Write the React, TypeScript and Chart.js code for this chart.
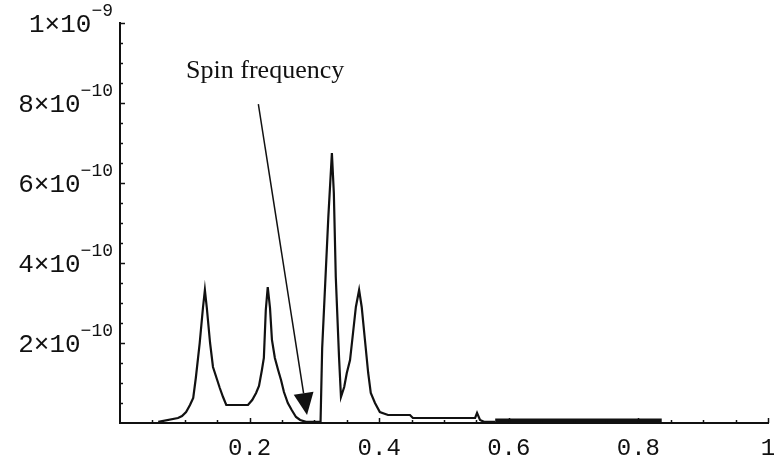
import { useEffect, useRef } from 'react';
import { Chart, registerables } from 'chart.js';

Chart.register(...registerables);

// Frequency (x) and power (y, in units of 1e-10)
const FREQ = [
  0.059, 0.0895, 0.0957, 0.102, 0.108, 0.113, 0.117, 0.123, 0.128, 0.131,
  0.134, 0.139, 0.1435, 0.150, 0.154, 0.159, 0.164, 0.1975, 0.204, 0.210,
  0.2145, 0.219, 0.222, 0.225, 0.228, 0.2315, 0.2345, 0.239, 0.244, 0.2485,
  0.253, 0.259, 0.265, 0.2716, 0.278, 0.287, 0.3056, 0.3095, 0.312, 0.3215,
  0.327, 0.330, 0.333, 0.338, 0.341, 0.346, 0.350, 0.355, 0.3596, 0.364,
  0.369, 0.373, 0.378, 0.383, 0.387, 0.3935, 0.401, 0.4136, 0.4475, 0.452,
  0.548, 0.551, 0.5556, 0.5617, 0.579,
];
const POWER = [
  0.03, 0.125, 0.175, 0.275, 0.45, 0.625, 1.125, 2.0, 2.875, 3.325,
  2.875, 2.0, 1.4, 1.075, 0.875, 0.65, 0.45, 0.45, 0.575, 0.75,
  0.925, 1.325, 1.625, 2.825, 3.4, 2.875, 2.075, 1.625, 1.325, 1.075,
  0.775, 0.5, 0.325, 0.15, 0.075, 0.03, 0.03, 0.03, 1.875, 5.15,
  6.75, 5.75, 3.65, 1.65, 0.65, 0.9, 1.25, 1.575, 2.25, 2.9,
  3.325, 2.9, 2.075, 1.25, 0.75, 0.5, 0.275, 0.2, 0.2, 0.125,
  0.125, 0.25, 0.075, 0.03, 0.03,
];
// Low-level noise band
const NOISE_FREQ = [0.579, 0.836];
const NOISE_POWER = [0.05, 0.05];

const UNIT = 1e-10;
const X_TICK_VALUES = [0.2, 0.4, 0.6, 0.8, 1];
const X_TICK_LABELS = ['0.2', '0.4', '0.6', '0.8', '1'];
const Y_TICK_VALUES = [2, 4, 6, 8, 10];
const Y_TICK_MANTISSA = ['2', '4', '6', '8', '1'];
const Y_TICK_EXPONENT = ['\u221210', '\u221210', '\u221210', '\u221210', '\u22129'];
const ANNOTATION_TEXT = 'Spin frequency';
const ANNOTATION_AT = [0.102, 8.63];
const ARROW_FROM = [0.2135, 7.97];
const ARROW_TO = [0.2886, 0.2];

const ink = '#111';

const decorPlugin = {
  id: 'decor',
  afterDraw(chart: any) {
    const { ctx, chartArea } = chart;
    const xs = chart.scales.x;
    const ys = chart.scales.y;
    ctx.save();
    // inward ticks
    ctx.strokeStyle = ink;
    ctx.lineWidth = 1.5;
    for (let i = 1; i <= 20; i++) {
      const v = i * 0.05;
      const px = Math.round(xs.getPixelForValue(v)) + 0.5;
      const len = i % 4 === 0 ? 5 : 3;
      ctx.beginPath();
      ctx.moveTo(px, chartArea.bottom);
      ctx.lineTo(px, chartArea.bottom - len);
      ctx.stroke();
    }
    for (let i = 1; i <= 20; i++) {
      const v = i * 0.5 * UNIT;
      const py = Math.round(ys.getPixelForValue(v)) + 0.5;
      const len = i % 4 === 0 ? 5 : 3;
      ctx.beginPath();
      ctx.moveTo(chartArea.left, py);
      ctx.lineTo(chartArea.left + len, py);
      ctx.stroke();
    }
    // x labels
    ctx.fillStyle = ink;
    ctx.font = '24px "Liberation Mono", "DejaVu Sans Mono", monospace';
    ctx.textAlign = 'center';
    ctx.textBaseline = 'alphabetic';
    X_TICK_VALUES.forEach((v, i) => {
      ctx.fillText(X_TICK_LABELS[i], xs.getPixelForValue(v), chartArea.bottom + 32);
    });
    // y labels with superscripts
    const rightEdge = chartArea.left - 7;
    Y_TICK_VALUES.forEach((v, i) => {
      const py = ys.getPixelForValue(v * UNIT);
      ctx.font = '18px "Liberation Mono", "DejaVu Sans Mono", monospace';
      ctx.textAlign = 'right';
      ctx.textBaseline = 'alphabetic';
      const supW = ctx.measureText(Y_TICK_EXPONENT[i]).width;
      ctx.fillText(Y_TICK_EXPONENT[i], rightEdge, py - 7);
      ctx.font = '26px "Liberation Mono", "DejaVu Sans Mono", monospace';
      ctx.fillText(Y_TICK_MANTISSA[i] + '\u00d710', rightEdge - supW, py + 9);
    });
    // annotation text
    ctx.font = '26px "Liberation Serif", "Times New Roman", serif';
    ctx.textAlign = 'left';
    ctx.fillText(ANNOTATION_TEXT, xs.getPixelForValue(ANNOTATION_AT[0]), ys.getPixelForValue(ANNOTATION_AT[1] * UNIT));
    // arrow
    const x0 = xs.getPixelForValue(ARROW_FROM[0]);
    const y0 = ys.getPixelForValue(ARROW_FROM[1] * UNIT);
    const x1 = xs.getPixelForValue(ARROW_TO[0]);
    const y1 = ys.getPixelForValue(ARROW_TO[1] * UNIT);
    const ang = Math.atan2(y1 - y0, x1 - x0);
    const headLen = 22;
    const headHalf = 10;
    const bx = x1 - headLen * Math.cos(ang);
    const by = y1 - headLen * Math.sin(ang);
    ctx.lineWidth = 1.5;
    ctx.beginPath();
    ctx.moveTo(x0, y0);
    ctx.lineTo(bx, by);
    ctx.stroke();
    ctx.beginPath();
    ctx.moveTo(x1, y1);
    ctx.lineTo(bx + headHalf * Math.sin(ang), by - headHalf * Math.cos(ang));
    ctx.lineTo(bx - headHalf * Math.sin(ang), by + headHalf * Math.cos(ang));
    ctx.closePath();
    ctx.fill();
    ctx.restore();
  },
};

export default function App() {
  const ref = useRef<HTMLCanvasElement | null>(null);
  useEffect(() => {
    if (!ref.current) return;
    const chart = new Chart(ref.current, {
      type: 'line',
      data: {
        datasets: [
          {
            data: FREQ.map((f, i) => ({ x: f, y: POWER[i] * UNIT })),
            borderColor: ink,
            borderWidth: 2.2,
            pointRadius: 0,
            tension: 0,
            fill: false,
          },
          {
            data: NOISE_FREQ.map((f, i) => ({ x: f, y: NOISE_POWER[i] * UNIT })),
            borderColor: ink,
            borderWidth: 5,
            pointRadius: 0,
            fill: false,
          },
        ],
      },
      options: {
        animation: false,
        responsive: false,
        layout: { padding: { top: 23, right: 8, left: 0, bottom: 0 } },
        plugins: { legend: { display: false }, tooltip: { enabled: false } },
        scales: {
          x: {
            type: 'linear',
            min: 0,
            max: 1,
            grid: { display: false, drawTicks: false },
            border: { display: true, color: ink, width: 2 },
            ticks: { display: false },
            afterFit: (s: any) => { s.height = 39; },
          },
          y: {
            type: 'linear',
            min: 0,
            max: 1e-9,
            grid: { display: false, drawTicks: false },
            border: { display: true, color: ink, width: 2 },
            ticks: { display: false },
            afterFit: (s: any) => { s.width = 120; },
          },
        },
      },
      plugins: [decorPlugin],
    });
    return () => chart.destroy();
  }, []);
  return (
    <div style={{ position: 'fixed', left: 0, top: 0, width: 776, height: 462, background: '#fff' }}>
      <canvas ref={ref} width={776} height={462} style={{ display: 'block' }} />
    </div>
  );
}
